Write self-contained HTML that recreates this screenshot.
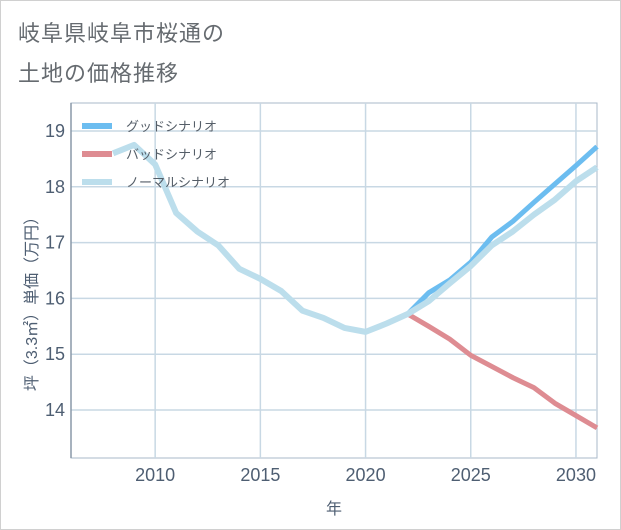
<!DOCTYPE html>
<html><head><meta charset="utf-8"><style>
body{margin:0;background:#fff;}
#wrap{position:relative;width:619px;height:528px;border:1px solid #d0d0d0;background:#fff;font-family:"Liberation Sans","Noto Sans CJK JP",sans-serif;}
.title{position:absolute;left:17px;font-size:22px;color:#666b70;letter-spacing:1px;}
</style></head><body>
<div id="wrap">
<div class="title" style="top:15px">岐阜県岐阜市桜通の</div>
<div class="title" style="top:55px">土地の価格推移</div>
<svg id="chart" width="621" height="530" style="position:absolute;left:-1px;top:-1px"></svg>
</div>
<script>
const years=[2008,2009,2010,2011,2012,2013,2014,2015,2016,2017,2018,2019,2020,2021,2022,2023,2024,2025,2026,2027,2028,2029,2030,2031];
const normal=[18.6,18.75,18.4,17.53,17.2,16.95,16.53,16.35,16.13,15.78,15.65,15.47,15.4,15.55,15.72,15.95,16.27,16.58,16.95,17.2,17.5,17.77,18.1,18.35];
const goodYears=[2022,2023,2024,2025,2026,2027,2028,2029,2030,2031];
const good=[15.72,16.1,16.33,16.65,17.1,17.38,17.72,18.05,18.38,18.72];
const bad=[15.72,15.5,15.27,14.98,14.78,14.58,14.4,14.12,13.9,13.68];
const xTicks=[2010,2015,2020,2025,2030];
const yTicks=[14,15,16,17,18,19];
const NS="http://www.w3.org/2000/svg";
const svg=document.getElementById('chart');
const L=71,R=597,T=103,B=458;
const xs=v=>L+(v-2006)/(2031-2006)*(R-L);
const ys=v=>131+(19-v)*55.8;
function mk(tag,attrs){const e=document.createElementNS(NS,tag);for(const k in attrs)e.setAttribute(k,attrs[k]);svg.appendChild(e);return e;}
const bg=mk('rect',{x:L,y:T,width:R-L,height:B-T,fill:'#fff',stroke:'#aab8c8'});


yTicks.forEach(v=>{
 const g=mk('line',{x1:L,x2:R,y1:ys(v),y2:ys(v),stroke:'#c8d8e4','stroke-width':1.5});
 
 
 const t=mk('text',{x:L-6,y:ys(v)+6,'text-anchor':'end','font-size':18,fill:'#4e5e72'});
 t.textContent=v;
 
 
});
xTicks.forEach(v=>{
 const g=mk('line',{x1:xs(v),x2:xs(v),y1:T,y2:B,stroke:'#c8d8e4','stroke-width':1.5});
 
 
 const t=mk('text',{x:xs(v),y:B+23,'text-anchor':'middle','font-size':18,fill:'#4e5e72'});
 t.textContent=v;
 
 
});
const ax=mk('line',{x1:L,x2:L,y1:T,y2:B,stroke:'#8a98a8','stroke-width':1.5});


const xt=mk('text',{x:334,y:514,'text-anchor':'middle','font-size':16,fill:'#4e5e72'});
xt.textContent='年';


const yt=mk('text',{x:0,y:0,'text-anchor':'middle','font-size':16,fill:'#4e5e72',transform:'translate(37,300) rotate(-90)'});
yt.textContent='坪（3.3㎡）単価（万円）';


function line(xv,yv,color,name,w){
 const d=xv.map((x,i)=>(i?'L':'M')+xs(x)+','+ys(yv[i])).join(' ');
 const p=mk('path',{d:d,fill:'none',stroke:color,'stroke-width':w,'stroke-linejoin':'round'});
 
 
}
line(goodYears,bad,'#de8c92','bad-scenario-line',5);
line(goodYears,good,'#6cbdf0','good-scenario-line',5);
line(years,normal,'#bcdeec','normal-scenario-line',6);
const legend=[['グッドシナリオ','#6cbdf0'],['バッドシナリオ','#de8c92'],['ノーマルシナリオ','#bcdeec']];
legend.forEach((l,i)=>{
 const y=126+i*28;
 const r=mk('rect',{x:82,y:y-3,width:30,height:6,fill:l[1]});
 
 
 const t=mk('text',{x:126,y:y+5,'font-size':13,fill:'#555e68'});
 t.textContent=l[0];
 
 
});
</script>
</body></html>
